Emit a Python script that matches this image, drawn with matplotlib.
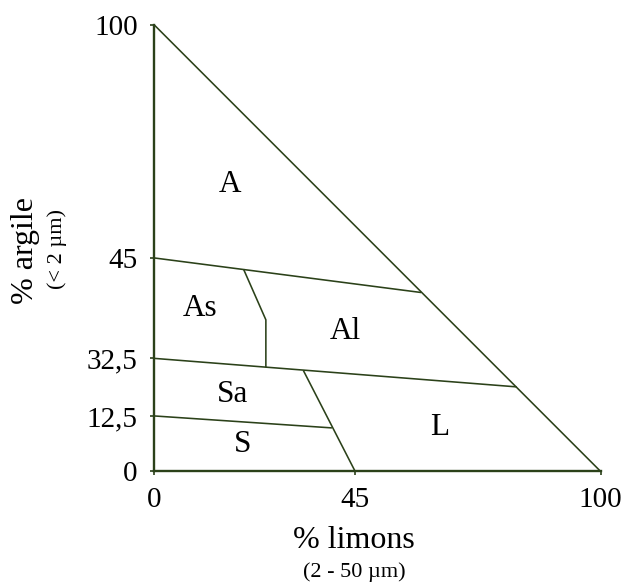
import numpy as np
import matplotlib
matplotlib.use("Agg")
import matplotlib.pyplot as plt

plt.rcParams['font.family'] = ['Liberation Serif', 'DejaVu Serif']

LINE_COLOR = '#2b4119'

# Tick values on both axes (% argile is drawn on a schematic, non-linear scale)
x_ticks = [0, 45, 100]
y_ticks = [0, 12.5, 32.5, 45, 100]
y_tick_labels = ['0', '12,5', '32,5', '45', '100']
# height (0-100) at which each % argile tick sits in the drawing
y_tick_heights = [0, 12.4, 25.3, 47.8, 100]

# Class boundaries (x = % limons, y = % argile)
hyp_x, hyp_y = [0, 100], [100, 0]
line45_x, line45_y = [0, 59.8], [45, 40.7]
line325_x, line325_y = [0, 81.2], [32.5, 22.6]
line125_x, line125_y = [0, 39.8], [12.5, 9.8]
as_al_x, as_al_y = [20.0, 25.0, 25.0], [43.6, 37.3, 29.4]
diag_x, diag_y = [33.4, 45], [28.3, 0]

# Class labels
classes = ['A', 'As', 'Al', 'Sa', 'S', 'L']
class_x = [17.0, 10.3, 42.8, 17.5, 19.7, 64.0]
class_y = [62.4, 38.7, 35.9, 20.1, 6.1, 10.0]

# piecewise-linear mapping % argile -> drawing height (padded so it extrapolates)
_a = [-100] + y_ticks + [200]
_h = [-100] + y_tick_heights + [200]


def fwd(v):
    return np.interp(v, _a, _h)


def inv(h):
    return np.interp(h, _h, _a)


fig = plt.figure(figsize=(6.23, 5.84), dpi=100)
ax = fig.add_axes([0.2477, 0.193, 0.7162, 0.7642])
ax.set_yscale('function', functions=(fwd, inv))
ax.set_xlim(0, 100)
ax.set_ylim(0, 100)

lw = 1.15
for xs, ys in [(hyp_x, hyp_y), (line45_x, line45_y), (line325_x, line325_y),
               (line125_x, line125_y), (as_al_x, as_al_y), (diag_x, diag_y)]:
    ax.plot(xs, ys, color=LINE_COLOR, lw=lw, clip_on=False, solid_capstyle='butt')

for name, cx, cy in zip(classes, class_x, class_y):
    ax.text(cx, cy, name, ha='center', va='center', fontsize=22.5, color='black')

for side in ['top', 'right']:
    ax.spines[side].set_visible(False)
for side in ['left', 'bottom']:
    ax.spines[side].set_color(LINE_COLOR)
    ax.spines[side].set_linewidth(1.7)

ax.set_xticks(x_ticks)
ax.set_xticklabels([str(t) for t in x_ticks])
ax.set_yticks(y_ticks)
ax.set_yticklabels(y_tick_labels)
ax.yaxis.set_minor_locator(matplotlib.ticker.NullLocator())
ax.tick_params(axis='both', direction='out', length=3, width=1.2,
               color=LINE_COLOR, labelsize=21)
ax.tick_params(axis='x', pad=8)
ax.tick_params(axis='y', pad=9)

# axis titles
fig.text(354 / 623, 1 - 541 / 584, '% limons', ha='center', va='center', fontsize=23)
fig.text(354 / 623, 1 - 572 / 584, '(2 - 50 µm)', ha='center', va='center', fontsize=16)
fig.text(25 / 623, 1 - 251 / 584, '% argile', ha='center', va='center',
         fontsize=23, rotation=90)
fig.text(57 / 623, 1 - 249 / 584, '(< 2 µm)', ha='center', va='center',
         fontsize=16, rotation=90)

fig.savefig('out.png', dpi=100)
